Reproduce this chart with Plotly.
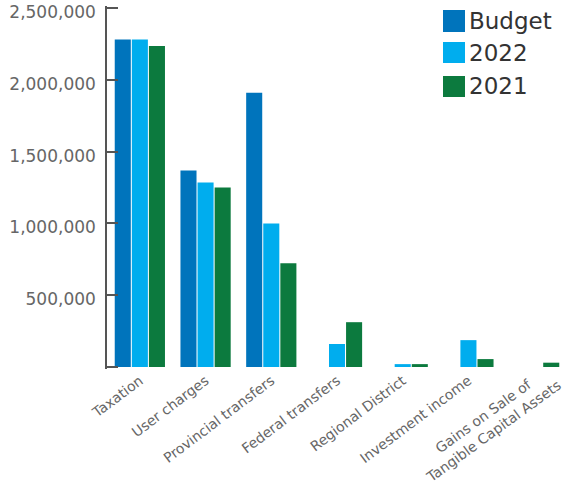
import plotly.graph_objects as go

categories = ["Taxation", "User charges", "Provincial transfers", "Federal transfers",
              "Regional District", "Investment income",
              "Gains on Sale of<br>Tangible Capital Assets"]
budget = [2280000, 1368000, 1910000, None, None, None, None]
y2022 = [2280000, 1285000, 1000000, 160000, 20000, 187000, None]
y2021 = [2236000, 1250000, 722000, 312000, 20000, 55000, 30000]

series_names = ["Budget", "2022", "2021"]
colors = ["#0074bc", "#00adee", "#0c7a3e"]
y_tickvals = [0, 500000, 1000000, 1500000, 2000000, 2500000]
y_ticktext = ["", "500,000", "1,000,000", "1,500,000", "2,000,000", "2,500,000"]

W, H = 567, 482
ML, MR, MT, MB = 107, 0, 6, 113
PW, PH = W - ML - MR, H - MT - MB

def px_x(x):
    return (x - ML) / PW

def px_y(y):
    return 1 - (y - MT) / PH

fig = go.Figure()
for name, vals, col in zip(series_names, [budget, y2022, y2021], colors):
    fig.add_trace(go.Bar(x=categories, y=vals, name=name, marker_color=col,
                         marker_line_width=0, showlegend=False))

font_family = "DejaVu Sans"
tick_font = dict(family=font_family, size=14, color="#666666")
shapes = []
annotations = []
rows = [(10, 32, 21), (42, 63, 53), (76, 97, 86)]
for (y0, y1, yc), name, col in zip(rows, series_names, colors):
    shapes.append(dict(type="rect", xref="paper", yref="paper",
                       x0=px_x(443), x1=px_x(465), y0=px_y(y1), y1=px_y(y0),
                       fillcolor=col, line_width=0))
    annotations.append(dict(xref="paper", yref="paper", x=px_x(467), y=px_y(yc),
                            text=name, showarrow=False, xanchor="left", yanchor="middle",
                            font=dict(family=font_family, size=23, color="#333333")))

# last category label drawn as rotated annotation (matches reference placement)
x_ticktext = categories[:-1] + [""]
annotations.append(dict(xref="paper", yref="paper", x=px_x(566), y=px_y(360),
                        text=categories[-1], showarrow=False, textangle=-36,
                        xanchor="right", yanchor="top", align="center", font=tick_font))

fig.update_layout(
    width=W, height=H,
    margin=dict(l=ML, r=MR, t=MT, b=MB),
    paper_bgcolor="white", plot_bgcolor="white",
    barmode="group", bargap=0.22, bargroupgap=0.06,
    shapes=shapes, annotations=annotations,
    xaxis=dict(showline=False, showgrid=False, zeroline=False, ticks="",
               tickmode="array", tickvals=categories, ticktext=x_ticktext,
               tickangle=-37, tickfont=tick_font, automargin=False),
    yaxis=dict(range=[-14000, 2514000], tickvals=y_tickvals, ticktext=y_ticktext,
               showline=True, linecolor="#555555", linewidth=1.5,
               ticks="inside", ticklen=11, tickcolor="#555555", tickwidth=1.5,
               showgrid=False, zeroline=False, ticklabeloverflow="allow",
               ticklabelshift=4,
               tickfont=dict(family=font_family, size=17, color="#666666"),
               ticklabelstandoff=6, automargin=False),
    showlegend=False,
)

fig.write_html("out.html")
